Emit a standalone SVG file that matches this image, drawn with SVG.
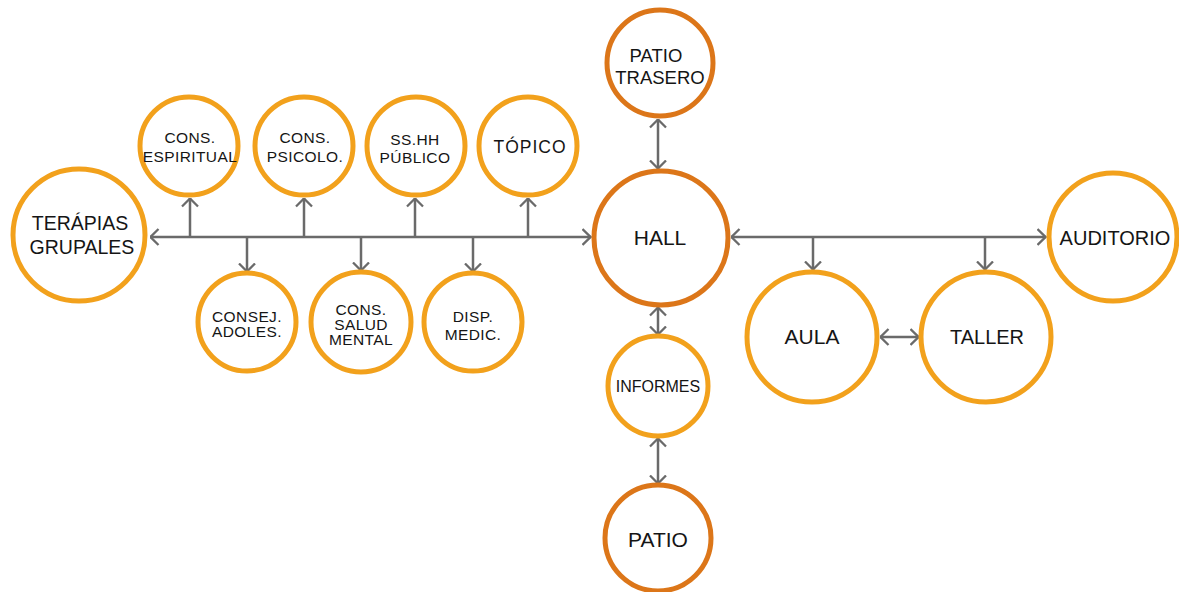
<svg xmlns="http://www.w3.org/2000/svg" width="1179" height="592" viewBox="0 0 1179 592">
<style>
.n{fill:#fff;stroke:#F2A11C;stroke-width:5}
.d{fill:#fff;stroke:#DC7619;stroke-width:5}
text{font-family:"Liberation Sans",Arial,sans-serif;fill:#151515;text-anchor:middle}
.s{font-size:15.5px;letter-spacing:0.4px}
.c{stroke:#6a6a6a;stroke-width:2.5;fill:none}
</style>
<defs>
<marker id="a" viewBox="0 0 10 18" refX="9.5" refY="9" markerWidth="10" markerHeight="18" markerUnits="userSpaceOnUse" orient="auto-start-reverse">
<path d="M1,1 L9,9 L1,17" fill="none" stroke="#6a6a6a" stroke-width="2.3"/>
</marker>
</defs>
<g id="connectors">
<line class="c" x1="150" y1="237" x2="591" y2="237" marker-start="url(#a)" marker-end="url(#a)"/>
<line class="c" x1="190" y1="237" x2="190" y2="198" marker-end="url(#a)"/>
<line class="c" x1="304" y1="237" x2="304" y2="198" marker-end="url(#a)"/>
<line class="c" x1="415" y1="237" x2="415" y2="198" marker-end="url(#a)"/>
<line class="c" x1="528" y1="237" x2="528" y2="198" marker-end="url(#a)"/>
<line class="c" x1="247" y1="237" x2="247" y2="272" marker-end="url(#a)"/>
<line class="c" x1="361" y1="237" x2="361" y2="271" marker-end="url(#a)"/>
<line class="c" x1="473" y1="237" x2="473" y2="272" marker-end="url(#a)"/>
<line class="c" x1="658" y1="119" x2="658" y2="169" marker-start="url(#a)" marker-end="url(#a)"/>
<line class="c" x1="658" y1="307" x2="658" y2="335" marker-start="url(#a)" marker-end="url(#a)"/>
<line class="c" x1="658" y1="438" x2="658" y2="484" marker-start="url(#a)" marker-end="url(#a)"/>
<line class="c" x1="731" y1="237" x2="1046" y2="237" marker-start="url(#a)" marker-end="url(#a)"/>
<line class="c" x1="813" y1="237" x2="813" y2="270" marker-end="url(#a)"/>
<line class="c" x1="985" y1="237" x2="985" y2="270" marker-end="url(#a)"/>
<line class="c" x1="880" y1="337" x2="919" y2="337" marker-start="url(#a)" marker-end="url(#a)"/>
</g>
<g id="terapias"><circle class="n" cx="79" cy="235" r="66"/><text x="80" y="230" font-size="19.5">TERÁPIAS</text><text x="82" y="254" font-size="19.5">GRUPALES</text></g>
<g id="espiritual"><circle class="n" cx="189" cy="146" r="49"/><text class="s" x="190" y="143">CONS.</text><text class="s" x="190" y="162" letter-spacing="0">ESPIRITUAL</text></g>
<g id="psicolo"><circle class="n" cx="304" cy="146" r="49"/><text class="s" x="305" y="143">CONS.</text><text class="s" x="305" y="162">PSICOLO.</text></g>
<g id="sshh"><circle class="n" cx="416" cy="146" r="49"/><text class="s" x="415" y="145">SS.HH</text><text class="s" x="415" y="163">PÚBLICO</text></g>
<g id="topico"><circle class="n" cx="528" cy="146" r="49"/><text x="530" y="153" font-size="17.5" letter-spacing="1">TÓPICO</text></g>
<g id="consej"><circle class="n" cx="247" cy="322" r="49"/><text class="s" x="247" y="322">CONSEJ.</text><text class="s" x="247" y="337">ADOLES.</text></g>
<g id="salud"><circle class="n" cx="361" cy="322" r="50"/><text class="s" x="361" y="315">CONS.</text><text class="s" x="361" y="330">SALUD</text><text class="s" x="361" y="345">MENTAL</text></g>
<g id="disp"><circle class="n" cx="473" cy="322" r="49"/><text class="s" x="473" y="322">DISP.</text><text class="s" x="473" y="340">MEDIC.</text></g>
<g id="patio-trasero"><circle class="d" cx="660" cy="63" r="53"/><text x="656" y="62" font-size="18.5">PATIO</text><text x="660" y="84" font-size="18.5">TRASERO</text></g>
<g id="hall"><circle class="d" cx="661" cy="238" r="67"/><text x="660" y="245" font-size="21">HALL</text></g>
<g id="informes"><circle class="n" cx="658" cy="386" r="50"/><text x="658" y="392" font-size="16">INFORMES</text></g>
<g id="patio"><circle class="d" cx="658" cy="538" r="53"/><text x="658" y="547" font-size="21">PATIO</text></g>
<g id="aula"><circle class="n" cx="812" cy="337" r="65"/><text x="812" y="344" font-size="21">AULA</text></g>
<g id="taller"><circle class="n" cx="986" cy="337" r="65"/><text x="987" y="344" font-size="20">TALLER</text></g>
<g id="auditorio"><circle class="n" cx="1113" cy="237" r="64"/><text x="1115" y="245" font-size="20">AUDITORIO</text></g>
</svg>
